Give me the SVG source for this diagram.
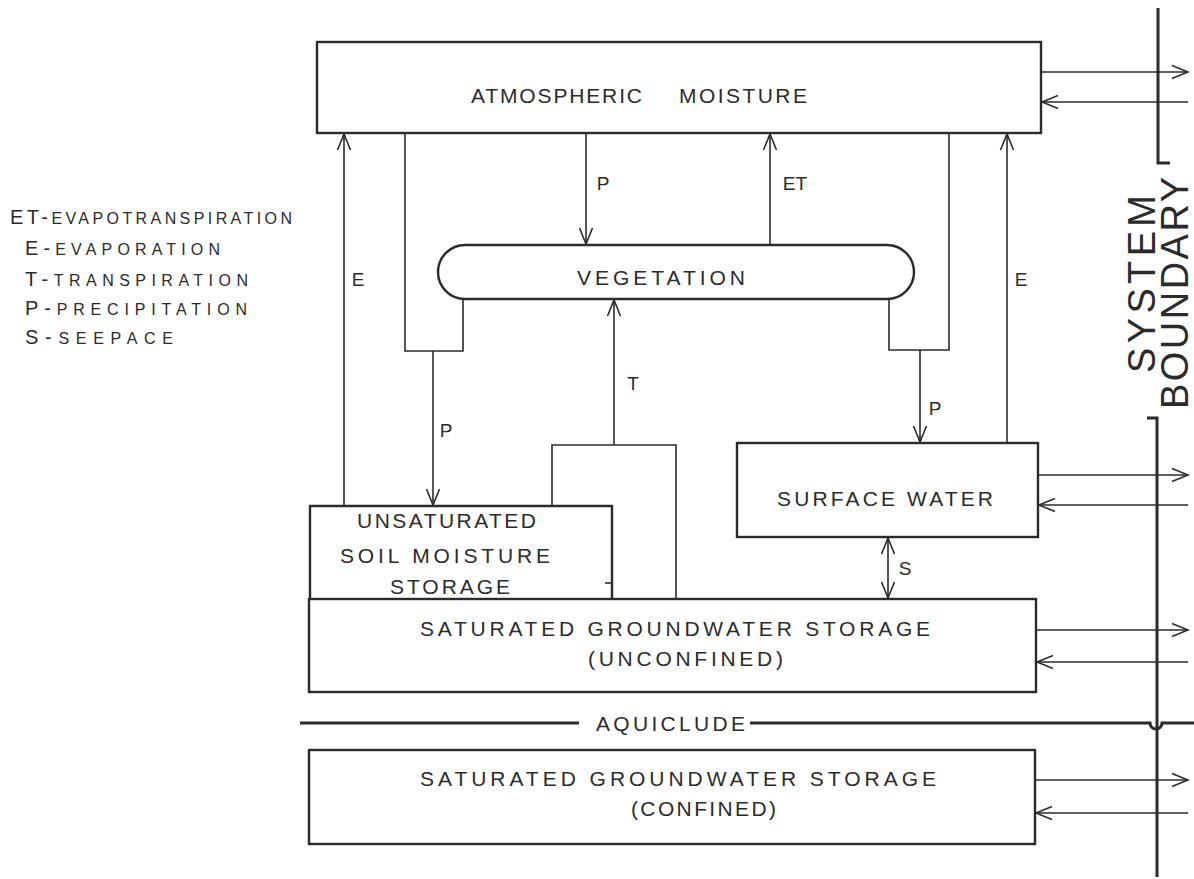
<svg xmlns="http://www.w3.org/2000/svg" width="1194" height="879" viewBox="0 0 1194 879">
<defs>
<marker id="ah" viewBox="-18 -8 20 16" refX="0" refY="0" markerWidth="20" markerHeight="16" markerUnits="userSpaceOnUse" orient="auto-start-reverse">
<path d="M-16,-6.5 L0,0 L-16,6.5" fill="none" stroke="#2b2b2b" stroke-width="1.6"/>
</marker>
</defs>
<style>
.box{fill:none;stroke:#2b2b2b;stroke-width:2.4}
.ln{fill:none;stroke:#2b2b2b;stroke-width:1.6}
.ar{fill:none;stroke:#2b2b2b;stroke-width:1.6;marker-end:url(#ah)}
.thick{fill:none;stroke:#2b2b2b;stroke-width:3}
text{font-family:"Liberation Sans","DejaVu Sans",sans-serif;fill:#2b2b2b}
.t{font-size:21px}
.lb{font-size:19px;text-anchor:middle}
.lg{font-size:16px}
.sb{font-size:38px;text-anchor:middle}
</style>
<rect width="1194" height="879" fill="#ffffff"/>

<g id="legend">
<text class="lg" x="10" y="224" textLength="282" lengthAdjust="spacing"><tspan font-size="20">ET-</tspan>EVAPOTRANSPIRATION</text>
<text class="lg" x="25" y="255" textLength="195" lengthAdjust="spacing"><tspan font-size="20">E-</tspan>EVAPORATION</text>
<text class="lg" x="25" y="286" textLength="223" lengthAdjust="spacing"><tspan font-size="20">T-</tspan>TRANSPIRATION</text>
<text class="lg" x="25" y="315" textLength="222" lengthAdjust="spacing"><tspan font-size="20">P-</tspan>PRECIPITATION</text>
<text class="lg" x="25" y="344" textLength="148" lengthAdjust="spacing"><tspan font-size="20">S-</tspan>SEEPACE</text>
</g>

<g id="atmospheric-moisture">
<rect class="box" x="317" y="42" width="724" height="91"/>
<text class="t" x="471" y="103" textLength="171" lengthAdjust="spacing">ATMOSPHERIC</text>
<text class="t" x="679" y="103" textLength="128" lengthAdjust="spacing">MOISTURE</text>
</g>

<g id="vegetation">
<rect class="box" x="438" y="245" width="476" height="54" rx="27" ry="27"/>
<text class="t" x="577" y="285" textLength="168" lengthAdjust="spacing">VEGETATION</text>
</g>

<g id="surface-water">
<rect class="box" x="737" y="443" width="301" height="94"/>
<text class="t" x="777" y="506" textLength="216" lengthAdjust="spacing">SURFACE WATER</text>
</g>

<g id="unsaturated-soil-moisture">
<path class="box" d="M310,599 L310,506 L612,506 L612,599"/>
<line class="ln" x1="605" y1="583" x2="612" y2="583"/>
<text class="t" x="357" y="528" textLength="179" lengthAdjust="spacing">UNSATURATED</text>
<text class="t" x="340" y="563" textLength="210" lengthAdjust="spacing">SOIL MOISTURE</text>
<text class="t" x="390" y="594" textLength="120" lengthAdjust="spacing">STORAGE</text>
</g>

<g id="groundwater-unconfined">
<rect class="box" x="309" y="599" width="727" height="93"/>
<text class="t" x="420" y="636" textLength="510" lengthAdjust="spacing">SATURATED GROUNDWATER STORAGE</text>
<text class="t" x="588" y="666" textLength="195" lengthAdjust="spacing">(UNCONFINED)</text>
</g>

<g id="aquiclude">
<line class="thick" x1="300" y1="723" x2="579" y2="723"/>
<path class="thick" d="M750,723 L1150,723 A6,6 0 0 0 1162,723 L1194,723"/>
<text class="t" x="596" y="731" textLength="149" lengthAdjust="spacing">AQUICLUDE</text>
</g>

<g id="groundwater-confined">
<rect class="box" x="309" y="750" width="726" height="94"/>
<text class="t" x="420" y="786" textLength="516" lengthAdjust="spacing">SATURATED GROUNDWATER STORAGE</text>
<text class="t" x="631" y="816" textLength="145" lengthAdjust="spacing">(CONFINED)</text>
</g>

<g id="system-boundary">
<path class="thick" d="M1158,8 L1158,163 L1170,163"/>
<path class="thick" d="M1147,418 L1157,418 L1157,877"/>
<text class="sb" transform="translate(1155,284) rotate(-90)" textLength="178" lengthAdjust="spacing">SYSTEM</text>
<text class="sb" transform="translate(1188,293) rotate(-90)" textLength="232" lengthAdjust="spacing">BOUNDARY</text>
</g>

<g id="connectors">
<line class="ar" x1="344" y1="506" x2="344" y2="134"/>
<polyline class="ln" points="405,133 405,351 463,351 463,299"/>
<line class="ar" x1="433" y1="351" x2="433" y2="505"/>
<line class="ar" x1="586" y1="133" x2="586" y2="244"/>
<line class="ar" x1="770" y1="245" x2="770" y2="134"/>
<polyline class="ln" points="949,133 949,350 889,350 889,299"/>
<line class="ar" x1="920" y1="350" x2="920" y2="442"/>
<line class="ar" x1="1007" y1="443" x2="1007" y2="134"/>
<line class="ar" x1="614" y1="445" x2="614" y2="300"/>
<polyline class="ln" points="552,506 552,445 676,445 676,599"/>
<line class="ar" x1="888" y1="538" x2="888" y2="598" style="marker-start:url(#ah)"/>
<line class="ar" x1="1041" y1="72" x2="1188" y2="72"/>
<line class="ar" x1="1188" y1="102" x2="1042" y2="102"/>
<line class="ar" x1="1038" y1="475" x2="1188" y2="475"/>
<line class="ar" x1="1188" y1="505" x2="1039" y2="505"/>
<line class="ar" x1="1036" y1="630" x2="1188" y2="630"/>
<line class="ar" x1="1188" y1="662" x2="1037" y2="662"/>
<line class="ar" x1="1035" y1="780" x2="1188" y2="780"/>
<line class="ar" x1="1188" y1="813" x2="1036" y2="813"/>
<text class="lb" x="358" y="286">E</text>
<text class="lb" x="1021" y="286">E</text>
<text class="lb" x="603" y="190">P</text>
<text class="lb" x="795" y="190">ET</text>
<text class="lb" x="633" y="390">T</text>
<text class="lb" x="446" y="437">P</text>
<text class="lb" x="935" y="415">P</text>
<text class="lb" x="905" y="575">S</text>
</g>
</svg>
